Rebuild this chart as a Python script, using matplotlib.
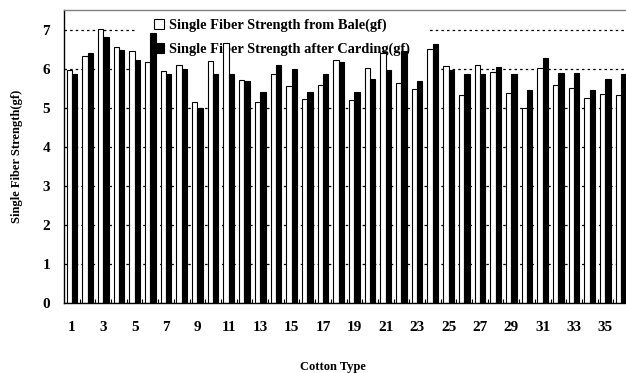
import matplotlib
matplotlib.use("Agg")
import matplotlib.pyplot as plt
import numpy as np
from matplotlib.patches import Patch
from matplotlib.ticker import FixedLocator, NullFormatter

# Cotton types 1..36 and single fiber strength (gf)
cotton_types = list(range(1, 37))
strength_bale = [5.97, 6.31, 7.01, 6.55, 6.44, 6.16, 5.93, 6.10, 5.15, 6.19,
                 6.65, 5.72, 5.14, 5.86, 5.55, 5.23, 5.59, 6.22, 5.20, 6.02,
                 6.40, 5.63, 5.47, 6.50, 6.06, 5.32, 6.09, 5.91, 5.38, 4.99,
                 6.02, 5.57, 5.51, 5.25, 5.36, 5.32]
strength_carding = [5.87, 6.41, 6.80, 6.47, 6.21, 6.91, 5.86, 6.00, 4.99, 5.87,
                    5.87, 5.68, 5.39, 6.09, 5.99, 5.39, 5.86, 6.17, 5.39, 5.74,
                    5.97, 6.44, 5.68, 6.62, 5.97, 5.86, 5.86, 6.04, 5.86, 5.45,
                    6.26, 5.90, 5.90, 5.45, 5.73, 5.86]
tick_labels = [str(n) if n % 2 == 1 else "" for n in cotton_types]
series_names = ["Single Fiber Strength from Bale(gf)",
                "Single Fiber Strength after Carding(gf)"]

W, H = 626, 373
fig = plt.figure(figsize=(W / 100, H / 100), dpi=100)
plt.rcParams["font.family"] = ["Liberation Serif", "DejaVu Serif"]
plt.rcParams["font.weight"] = "bold"

ax = fig.add_axes([64 / W, 70 / H, 565 / W, 293 / H])

x = np.array(cotton_types, dtype=float)
bw = 0.34
ax.bar(x - 0.17, strength_bale, width=bw, color="white", edgecolor="black",
       linewidth=0.8, zorder=2)
ax.bar(x + 0.17, strength_carding, width=bw, color="black", edgecolor="black",
       linewidth=0.8, zorder=2)

ax.set_xlim(0.5, 36.5)
ax.set_ylim(0, 7.5)

ax.set_xticks(x)
ax.set_xticklabels(tick_labels, fontsize=11, fontweight="bold")
ax.tick_params(axis="x", which="major", length=0, pad=13)
ax.xaxis.set_minor_locator(FixedLocator(np.arange(1.5, 36.5, 1.0)))
ax.xaxis.set_minor_formatter(NullFormatter())
ax.tick_params(axis="x", which="minor", direction="in", length=3, width=0.8)

ax.set_yticks(range(0, 8))
ax.set_yticklabels([str(v) for v in range(0, 8)], fontsize=11, fontweight="bold")
ax.tick_params(axis="y", length=0, pad=10)

ax.set_axisbelow(True)
ax.yaxis.grid(True, color="black", linestyle=(0, (2, 2.5)), linewidth=0.9)
ax.xaxis.grid(False)

ax.spines["top"].set_color("#808080")
ax.spines["right"].set_visible(False)
ax.spines["left"].set_color("black")
ax.spines["bottom"].set_color("black")
for s in ax.spines.values():
    s.set_linewidth(1.0)

ax.set_ylabel("Single Fiber Strength(gf)", fontsize=9, fontweight="bold",
              labelpad=14)
fig.text(333 / W, 1 - 367 / H, "Cotton Type", fontsize=9, fontweight="bold",
         ha="center", va="center")

handles = [Patch(facecolor="white", edgecolor="black", linewidth=0.8),
           Patch(facecolor="black", edgecolor="black", linewidth=0.8)]
leg = ax.legend(handles, series_names, loc="upper left",
                bbox_to_anchor=(135 / W, 1 + 0 / H),
                bbox_transform=fig.transFigure,
                frameon=True, fancybox=False, framealpha=1.0,
                facecolor="white", edgecolor="none",
                prop={"size": 10.4, "weight": "bold"},
                handlelength=0.72, handleheight=0.72, handletextpad=0.35,
                labelspacing=0.72, borderpad=1.3, borderaxespad=0)
leg.set_zorder(1.5)

fig.savefig("out.png", dpi=100)
